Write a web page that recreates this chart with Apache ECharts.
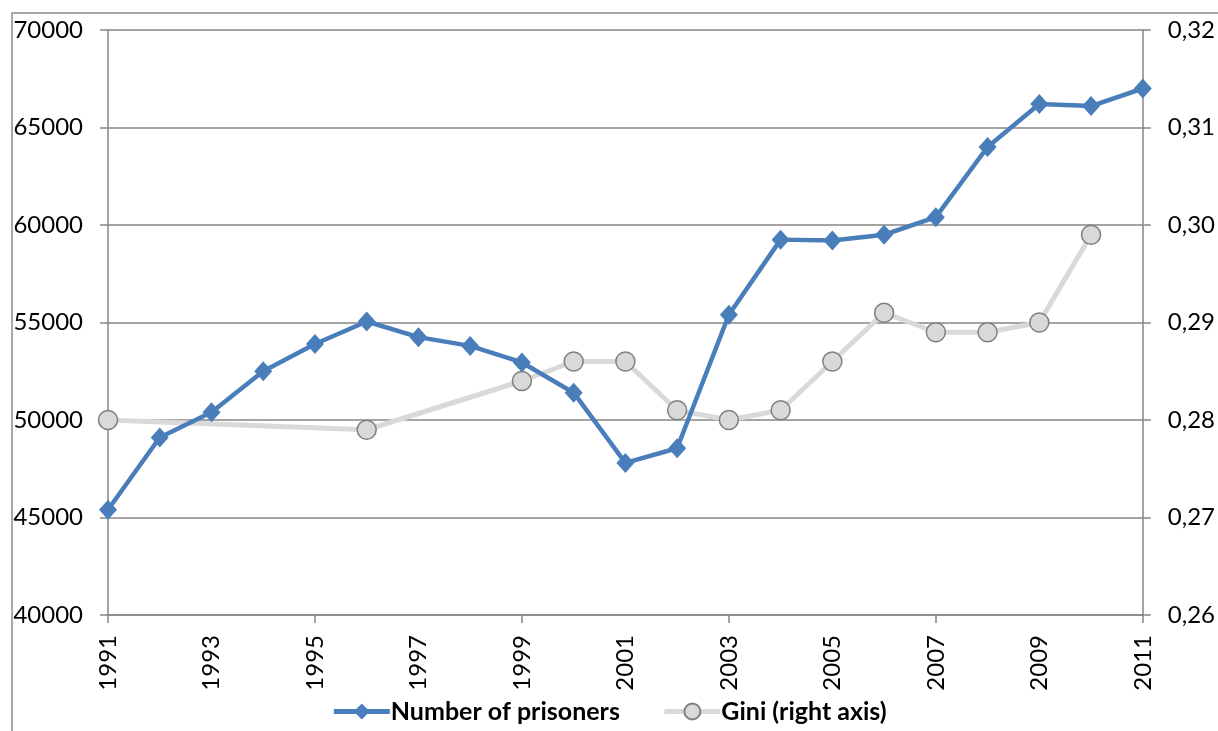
<!DOCTYPE html>
<html><head><meta charset="utf-8">
<script src="https://cdn.jsdelivr.net/npm/echarts@6/dist/echarts.min.js"></script>
<style>html,body{margin:0;padding:0;background:#fff}#c{width:1218px;height:731px}</style>
</head><body><div id="c"></div>
<script>
const years = ['1991','1992','1993','1994','1995','1996','1997','1998','1999','2000','2001','2002','2003','2004','2005','2006','2007','2008','2009','2010','2011'];
const prisoners = [45400,49100,50400,52500,53900,55050,54250,53800,52950,51400,47800,48550,55400,59250,59200,59500,60400,64000,66200,66100,67000];
const gini = [0.280,null,null,null,null,0.279,null,null,0.284,0.286,0.286,0.281,0.280,0.281,0.286,0.291,0.289,0.289,0.290,0.299,null];
const leftTicks = [40000,45000,50000,55000,60000,65000,70000];
const rightTicks = ['0,26','0,27','0,28','0,29','0,30','0,31','0,32'];

const FONT = 'Lato';
const chart = echarts.init(document.getElementById('c'));
chart.setOption({
  animation:false,
  textStyle:{fontFamily:FONT},
  graphic:[{type:'rect',shape:{x:12,y:13,width:1300,height:800},style:{fill:'none',stroke:'#8c8c8c',lineWidth:1.5},silent:true}],
  grid:{left:108,right:73,top:30,bottom:116},
  legend:{bottom:2,left:'center',itemWidth:56,itemHeight:20,itemGap:42,
    lineStyle:{width:5},
    textStyle:{fontFamily:FONT,fontWeight:'bold',fontSize:25,color:'#000',padding:[0,0,0,-4]},
    data:['Number of prisoners','Gini (right axis)']},
  xAxis:{type:'category',data:years,boundaryGap:false,
    axisLine:{lineStyle:{color:'#868686',width:1.5}},
    axisTick:{show:true,interval:3,length:8,lineStyle:{color:'#868686',width:1.5}},
    axisLabel:{interval:1,rotate:90,fontSize:24,color:'#000',margin:20,fontFamily:FONT},
    splitLine:{show:false}},
  yAxis:[{type:'value',min:40000,max:70000,interval:5000,position:'left',
      axisLine:{show:true,lineStyle:{color:'#868686',width:1.5}},
      axisTick:{show:true,length:8,lineStyle:{color:'#868686',width:1.5}},
      axisLabel:{fontSize:24,color:'#000',margin:25,fontFamily:FONT,formatter:v=>String(v)},
      splitLine:{show:true,lineStyle:{color:'#868686',width:1.5}}},
    {type:'value',min:0.26,max:0.32,interval:0.01,position:'right',
      axisLine:{show:true,lineStyle:{color:'#868686',width:1.5}},
      axisTick:{show:true,length:8,lineStyle:{color:'#868686',width:1.5}},
      axisLabel:{fontSize:24,color:'#000',margin:25,fontFamily:FONT,
        formatter:v=>rightTicks[Math.round((v-0.26)*100)]},
      splitLine:{show:false}}],
  series:[
    {name:'Gini (right axis)',type:'line',yAxisIndex:1,data:gini,connectNulls:true,
      symbol:'circle',symbolSize:19,
      lineStyle:{color:'#d9d9d9',width:5},
      itemStyle:{color:'#d9d9d9',borderColor:'#7f7f7f',borderWidth:1.5},z:2},
    {name:'Number of prisoners',type:'line',yAxisIndex:0,data:prisoners,
      symbol:'diamond',symbolSize:[18,20],
      lineStyle:{color:'#4a7ebb',width:4.5},
      itemStyle:{color:'#4a7ebb'},z:3}
  ]
});
</script></body></html>
